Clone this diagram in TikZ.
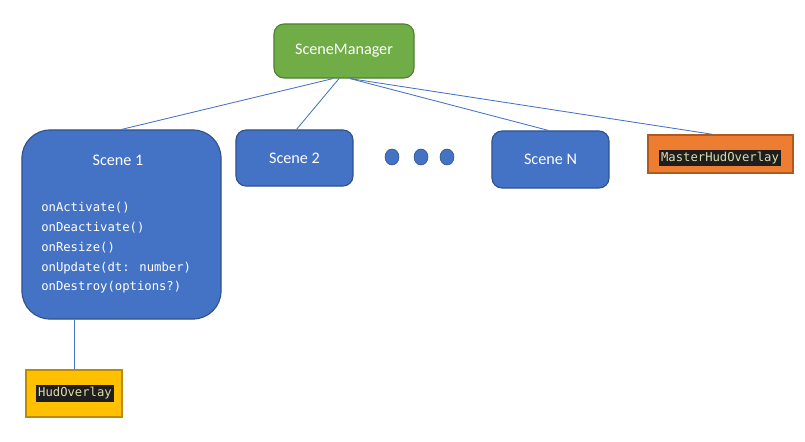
\documentclass[tikz,border=0pt]{standalone}
\usepackage{fontspec}
\usetikzlibrary{shapes.geometric}
\setmainfont{Carlito}
\newfontfamily\codefont{DejaVu Sans Mono}
\definecolor{mgrgreen}{HTML}{70AD47}
\definecolor{mgrline}{HTML}{507E32}
\definecolor{scenefill}{HTML}{4472C4}
\definecolor{sceneline}{HTML}{2F528F}
\definecolor{hudorange}{HTML}{ED7D31}
\definecolor{hudorangeline}{HTML}{AE5A21}
\definecolor{hudyellow}{HTML}{FFC000}
\definecolor{hudyellowline}{HTML}{BC8C00}
\definecolor{codebg}{HTML}{1E1E1E}
\definecolor{codefg}{HTML}{DCDCAA}
\begin{document}
\begin{tikzpicture}[x=0.025cm, y=-0.025cm,
		box/.style = {draw = sceneline, fill = scenefill, line width = 0.8pt, rounded corners = 0.25cm, text = white, inner sep = 0pt, font = \fontsize{11.5}{13}\selectfont},
		mgrbox/.style = {box, draw = mgrline, fill = mgrgreen},
		hudbox/.style = {draw = #1line, fill = #1, line width = 1pt, inner sep = 0pt},
		codetag/.style = {fill = codebg, text = codefg, inner sep = 1.5pt, font = \codefont\fontsize{8.7}{10}\selectfont},
		link/.style = {draw = scenefill, line width = 0.6pt},
		dot/.style = {draw = sceneline, fill = scenefill, ellipse, minimum width = 0.35cm, minimum height = 0.4cm, inner sep = 0pt}]
		\useasboundingbox (0,0) rectangle (805,442);
		
		\node[mgrbox, minimum width = 3.5cm, minimum height = 1.35cm] (mgr) at (344,51) {SceneManager};
		
		\node[box, rounded corners = 0.7cm, minimum width = 4.975cm, minimum height = 4.725cm] (scene1) at (121.5,224.5) {};
		\node[text = white, inner sep = 0pt, font = \fontsize{11.5}{13}\selectfont] (title1) at (118,160) {Scene 1};
		\node[text = white, inner sep = 0pt, anchor = north west, align = left, font = \codefont\fontsize{8.7}{14.1}\selectfont] (calls1) at (41,202) {onActivate()\\onDeactivate()\\onResize()\\onUpdate(dt: number)\\onDestroy(options?)};
		
		\node[box, minimum width = 2.925cm, minimum height = 1.4cm] (scene2) at (294.5,158) {Scene 2};
		\node[box, minimum width = 2.925cm, minimum height = 1.425cm] (sceneN) at (550.5,159.5) {Scene N};
		
		\node[dot] (dotA) at (392,157) {};
		\node[dot] (dotB) at (421,157) {};
		\node[dot] (dotC) at (447,157) {};
		
		\node[hudbox = hudorange, minimum width = 3.625cm, minimum height = 0.95cm] (master) at (720.5,154) {};
		\node[codetag] (mastertag) at (720,158) {MasterHudOverlay};
		
		\node[hudbox = hudyellow, minimum width = 2.4cm, minimum height = 1.175cm] (hud) at (74,393.5) {};
		\node[codetag] (hudtag) at (75,393.5) {HudOverlay};
		
		\draw[link] ([xshift = -0.275cm]mgr.south) -- (scene1.north);
		\draw[link] ([xshift = -0.125cm]mgr.south) -- ([xshift = 0.05cm]scene2.north);
		\draw[link] ([xshift = 0.15cm]mgr.south) -- ([xshift = -0.05cm]sceneN.north);
		\draw[link] ([xshift = 0.15cm]mgr.south) -- ([xshift = -0.2cm]master.north);
		\draw[link] (hud.north) -- (hud.north |- scene1.south);
	\end{tikzpicture}
\end{document}
